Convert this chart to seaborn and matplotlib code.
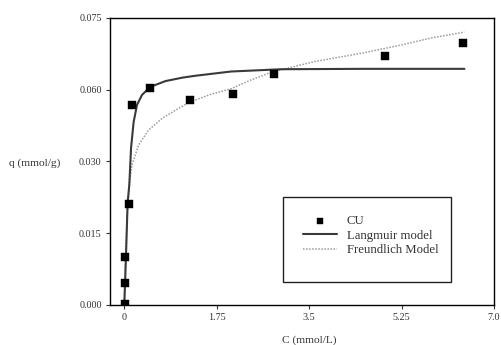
import matplotlib
matplotlib.use("Agg")
import matplotlib.pyplot as plt
import seaborn as sns
import pandas as pd
from matplotlib.patches import Rectangle

sns.set_style("ticks")
plt.rcParams['font.family'] = ['Liberation Serif', 'DejaVu Serif']

# experimental points (CU)
c_exp = [0.01, 0.02, 0.02, 0.08, 0.146, 0.49, 1.24, 2.05, 2.83, 4.94, 6.41]
q_exp = [0.0003, 0.0057, 0.0125, 0.0264, 0.0523, 0.0567, 0.0536, 0.0551, 0.0604, 0.0651, 0.0685]

# Langmuir fit curve
c_lang = [0.0, 0.03, 0.063, 0.095, 0.128, 0.177, 0.241, 0.336, 0.494, 0.78, 1.10, 1.35,
          2.02, 2.97, 4.5, 6.44]
q_lang = [0.0, 0.0118, 0.0267, 0.0314, 0.0410, 0.0478, 0.0523, 0.0549, 0.0570, 0.0585, 0.0594, 0.0599,
          0.0610, 0.0616, 0.0617, 0.0617]

# Freundlich fit curve
c_freu = [0.0, 0.02, 0.057, 0.10, 0.146, 0.27, 0.46, 0.72, 1.03, 1.25, 1.63, 2.02, 2.4, 2.78,
          3.6, 4.54, 5.2, 5.82, 6.44]
q_freu = [0.0, 0.0105, 0.0235, 0.032, 0.0366, 0.0418, 0.0457, 0.0488, 0.0514, 0.0531, 0.0550, 0.0565,
          0.0588, 0.0608, 0.0636, 0.0659, 0.0678, 0.0698, 0.0713]

x_ticks = [0, 1.75, 3.5, 5.25, 7.0]
x_tick_labels = ["0", "1.75", "3.5", "5.25", "7.0"]
y_tick_labels = ["0.000", "0.015", "0.030", "0.060", "0.075"]

df_exp = pd.DataFrame({"C": c_exp, "q": q_exp})
df_lang = pd.DataFrame({"C": c_lang, "q": q_lang})
df_freu = pd.DataFrame({"C": c_freu, "q": q_freu})

fig = plt.figure(figsize=(5.01, 3.45), dpi=100)
ax = fig.add_axes([0.2196, 0.116, 0.7665, 0.832])

sns.lineplot(data=df_freu, x="C", y="q", ax=ax, color="#9a9a9a", lw=1.1,
             linestyle=(0, (1, 1)), label="Freundlich Model", zorder=2)
sns.lineplot(data=df_lang, x="C", y="q", ax=ax, color="#3a3a3a", lw=1.5,
             label="Langmuir model", zorder=3)
sns.scatterplot(data=df_exp, x="C", y="q", ax=ax, marker="s", s=30, color="black",
                edgecolor="black", linewidth=0.3, label="CU", zorder=4)

ax.set_xlim(-0.27, 7.0)
ax.set_ylim(0, 0.075)
ax.set_xticks(x_ticks)
ax.set_xticklabels(x_tick_labels)
ax.set_yticks([0, 0.01875, 0.0375, 0.05625, 0.075])
ax.set_yticklabels(y_tick_labels)
ax.tick_params(axis="both", labelsize=7.3, length=3, width=0.8, colors="#333333", pad=3)
for sp in ax.spines.values():
    sp.set_color("black")
    sp.set_linewidth(1.0)

ax.set_xlabel("C (mmol/L)", fontsize=8.2, color="#333333")
ax.set_ylabel("q (mmol/g)", fontsize=8.2, color="#333333", rotation=0, ha="center", va="center")
ax.xaxis.set_label_coords(0.52, -0.105)
ax.yaxis.set_label_coords(-0.195, 0.495)

# legend box
ax.add_patch(Rectangle((0.45, 0.08), 0.438, 0.296, transform=ax.transAxes,
                       fill=False, edgecolor="#222222", lw=1.0, zorder=5))
handles, labels = ax.get_legend_handles_labels()
order = [labels.index("CU"), labels.index("Langmuir model"), labels.index("Freundlich Model")]
leg = ax.legend([handles[i] for i in order], [labels[i] for i in order],
                loc="upper left", bbox_to_anchor=(0.485, 0.335), frameon=False,
                fontsize=9.2, handlelength=2.7, handletextpad=0.75, labelspacing=0.2,
                borderpad=0, markerscale=0.7)
for t in leg.get_texts():
    t.set_color("#333333")

fig.savefig("out.png", dpi=100)
